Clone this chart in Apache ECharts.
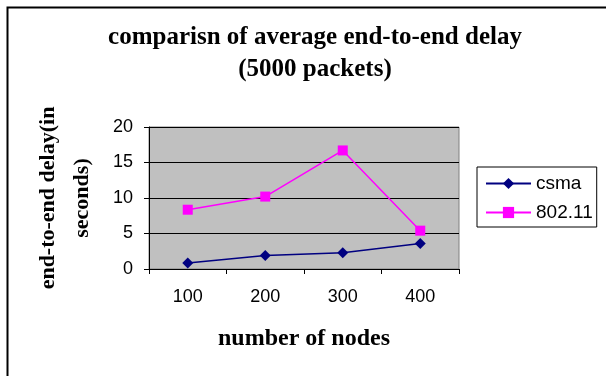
<!DOCTYPE html>
<html><head><meta charset="utf-8">
<script src="https://cdn.jsdelivr.net/npm/echarts@6/dist/echarts.min.js"></script>
<style>html,body{margin:0;padding:0;background:#fff}#c{width:606px;height:376px}</style>
</head><body><div id="c"></div>
<script>
const categories = ['100', '200', '300', '400'];
const csma = [0.85, 1.9, 2.3, 3.6];
const ieee80211 = [8.35, 10.2, 16.7, 5.4];
const yTicks = [0, 5, 10, 15, 20];
const seriesNames = ['csma', '802.11'];
const titleText = 'comparisn of average end-to-end delay\n(5000 packets)';
const xName = 'number of nodes';
const yName = 'end-to-end delay(in\nseconds)';

const chart = echarts.init(document.getElementById('c'));
chart.setOption({
  animation: false,
  backgroundColor: '#fff',
  graphic: [{
    type: 'rect', left: 5, top: 5, silent: true,
    shape: { x: 0, y: 0, width: 700, height: 500 },
    style: { fill: 'none', stroke: '#000', lineWidth: 2 }
  }],
  title: {
    text: titleText, left: 310, top: 17, textAlign: 'center',
    textStyle: { fontFamily: 'Liberation Serif', fontWeight: 'bold', fontSize: 25, color: '#000', lineHeight: 32 }
  },
  grid: { left: 149, right: 147, top: 127, bottom: 107, show: true, backgroundColor: '#C0C0C0', borderColor: '#808080', borderWidth: 1 },
  legend: {
    orient: 'vertical', left: 477, top: 167,
    data: seriesNames,
    borderColor: '#000', borderWidth: 1, padding: [7, 4, 5, 8],
    itemWidth: 45, itemHeight: 14, itemGap: 10,
    textStyle: { fontFamily: 'Liberation Sans', fontSize: 19, color: '#000' }
  },
  xAxis: {
    type: 'category', data: categories, boundaryGap: true,
    name: xName, nameLocation: 'middle', nameGap: 58,
    nameTextStyle: { fontFamily: 'Liberation Serif', fontWeight: 'bold', fontSize: 24, color: '#000' },
    axisLine: { lineStyle: { color: '#000', width: 1 } },
    axisTick: { show: true, length: 5, lineStyle: { color: '#000' } },
    axisLabel: { fontFamily: 'Liberation Sans', fontSize: 18, color: '#000', margin: 19 },
    splitLine: { show: false }
  },
  yAxis: {
    type: 'value', min: yTicks[0], max: yTicks[yTicks.length - 1], interval: 5,
    name: yName, nameLocation: 'middle', nameGap: 50,
    nameTextStyle: { fontFamily: 'Liberation Serif', fontWeight: 'bold', fontSize: 22, color: '#000', lineHeight: 34, align: 'center' },
    axisLine: { show: true, lineStyle: { color: '#000', width: 1 } },
    axisTick: { show: true, length: 5, lineStyle: { color: '#000' } },
    axisLabel: { fontFamily: 'Liberation Sans', fontSize: 18, color: '#000', margin: 16 },
    splitLine: { show: true, lineStyle: { color: '#000', width: 1 } }
  },
  series: [{
    name: seriesNames[0], type: 'line', data: csma,
    symbol: 'diamond', symbolSize: 11,
    lineStyle: { color: '#000080', width: 1.5 },
    itemStyle: { color: '#000080' }
  }, {
    name: seriesNames[1], type: 'line', data: ieee80211,
    symbol: 'rect', symbolSize: 10,
    lineStyle: { color: '#FF00FF', width: 1.5 },
    itemStyle: { color: '#FF00FF' }
  }]
});
</script></body></html>
